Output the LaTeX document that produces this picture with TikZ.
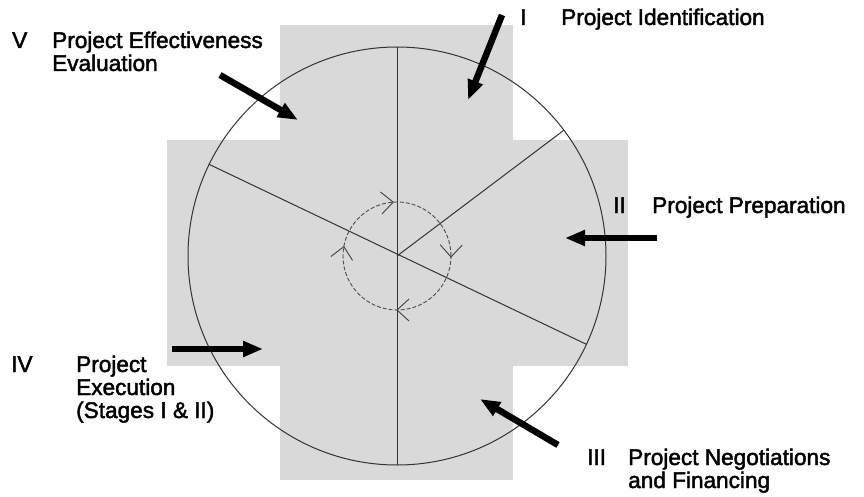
\documentclass[tikz,border=0pt]{standalone}
\usepackage{fontspec}
\setmainfont{Liberation Sans}
\newfontfamily\labfont{Liberation Sans}[FakeBold=2]
\usetikzlibrary{arrows.meta}
\begin{document}
\begin{tikzpicture}[x=1pt,y=1pt,
  band/.style={fill=black!15, draw=none},
  rim/.style={draw=black!80, line width=1pt, circle, inner sep=0pt, outer sep=0pt, minimum size=418pt},
  spoke/.style={draw=black!80, line width=1pt},
  loopc/.style={draw=black!70, line width=0.9pt, dash pattern=on 4pt off 2pt, circle, inner sep=0pt, outer sep=0pt, minimum size=108pt},
  chevline/.style={draw=black!75, line width=0.9pt, line join=miter},
  bigarrow/.style={line width=6.5pt, -{Triangle[length=20pt,width=15pt]}},
  lab/.style={anchor=base west, inner sep=0pt, align=left, font=\labfont\fontsize{22.6}{23}\selectfont},
]
\useasboundingbox (0,0) rectangle (864,496);
% stippled cross
\fill[band] (280,16) rectangle (513,471);
\fill[band] (167,130) rectangle (628,356);
% wheel
\coordinate (c) at (397,240);
\node[rim] (wheel) at (c) {};
\draw[spoke] (wheel.north) -- (wheel.south);
\draw[spoke] (c) -- (wheel.37.7);
\draw[spoke] (wheel.154.8) -- (wheel.-25.2);
% inner cycle with clockwise chevrons
\node[loopc] (loop) at (c) {};
\draw[chevline, shift={(loop.94)}, rotate=94] (-11,12) -- (0,0) -- (11,12);
\draw[chevline, shift={(loop.-1)}, rotate=-1] (-11,12) -- (0,0) -- (11,12);
\draw[chevline, shift={(loop.-90)}, rotate=-90] (-11,12) -- (0,0) -- (11,12);
\draw[chevline, shift={(loop.170)}, rotate=170] (-11,12) -- (0,0) -- (11,12);
% labels (anchor on the baseline of the last line)
\node[lab] (n5) at (12,448) {V};
\node[lab] (t5) at (52,425) {Project Effectiveness\\Evaluation};
\node[lab] (n1) at (520,471) {I};
\node[lab] (t1) at (561,471) {Project Identification};
\node[lab] (n2) at (613,283) {II};
\node[lab] (t2) at (652,283) {Project Preparation};
\node[lab] (n3) at (587,31) {III};
\node[lab] (t3) at (628,8) {Project Negotiations\\and Financing};
\node[lab] (n4) at (11,124) {IV};
\node[lab] (t4) at (76,78) {Project\\Execution\\(Stages I \& II)};
% arrows
\coordinate (a5s) at (220,421); \coordinate (a5e) at (298,376);
\coordinate (a1s) at (502,481); \coordinate (a1e) at (468,396);
\coordinate (a2s) at (657,258); \coordinate (a2e) at (565,258);
\coordinate (a3s) at (558,51);  \coordinate (a3e) at (480,97);
\coordinate (a4s) at (172,147); \coordinate (a4e) at (263,147);
\draw[bigarrow] (a5s) -- (a5e);
\draw[bigarrow] (a1s) -- (a1e);
\draw[bigarrow] (a2s) -- (a2e);
\draw[bigarrow] (a3s) -- (a3e);
\draw[bigarrow] (a4s) -- (a4e);
\end{tikzpicture}
\end{document}
